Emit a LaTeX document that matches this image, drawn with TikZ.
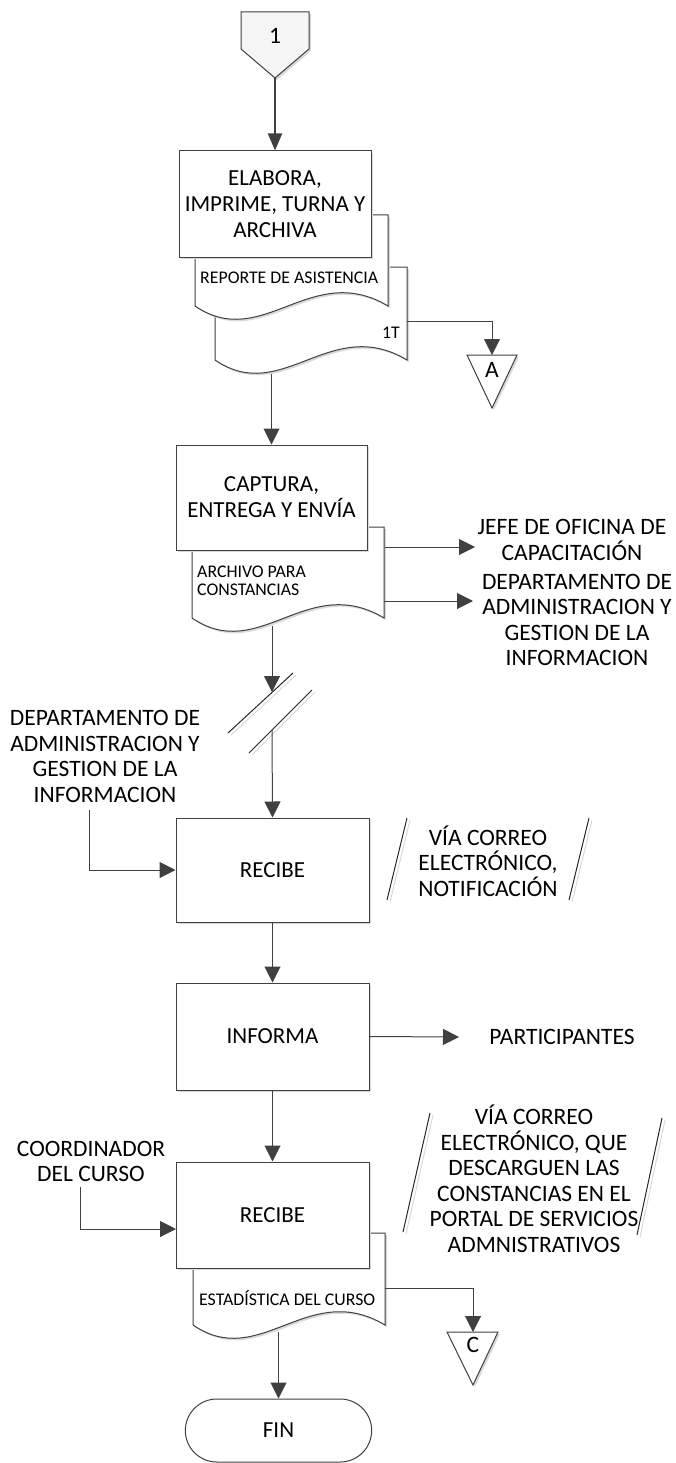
\documentclass[tikz,border=0pt]{standalone}
\usepackage{fontspec}
\setmainfont{Carlito}
\usetikzlibrary{arrows.meta,shapes.misc,shadows,calc}
\definecolor{lncol}{HTML}{404040}
\definecolor{shcol}{HTML}{D9D9D9}
\newcommand\docshape[4]{%
  \fill[shcol] ({#1+2},{#2+2}) -- ({#1+2},{#4+2}) .. controls ({#1+2+0.35*(#3-#1)},{#4+2+46}) and ({#1+2+0.6*(#3-#1)},{#4+2-46}) .. ({#3+2},{#4+2}) -- ({#3+2},{#2+2}) -- cycle;
  \draw[docst] (#1,#2) -- (#1,#4) .. controls ({#1+0.35*(#3-#1)},{#4+46}) and ({#1+0.6*(#3-#1)},{#4-46}) .. (#3,#4) -- (#3,#2) -- cycle;}
\begin{document}
\begin{tikzpicture}[x=1pt,y=-1pt,
  ln/.style={draw=lncol, line width=1pt},
  arr/.style={ln, -{Triangle[length=16pt,width=16pt]}},
  thickarr/.style={draw=lncol, line width=2pt, -{Triangle[length=17pt,width=14pt]}},
  docst/.style={draw=lncol, line width=1pt, fill=white},
  box/.style={draw=lncol, line width=1pt, fill=white, align=center, inner sep=2pt,
    font=\fontsize{23}{26}\selectfont,
    drop shadow={shadow xshift=2pt, shadow yshift=-2pt, fill=shcol, opacity=1}},
  lab/.style={font=\fontsize{23.5}{25.5}\selectfont, align=center, inner sep=0pt},
  small/.style={font=\fontsize{17.8}{18}\selectfont, align=left, inner sep=0pt},
  slash/.style={draw=black!85, line width=1pt},
  slashsh/.style={draw=shcol, line width=1pt},
  term/.style={draw=lncol, line width=1pt, fill=white, rounded rectangle, minimum width=193pt, minimum height=63pt, font=\fontsize{23}{26}\selectfont}
]
\useasboundingbox (0,0) rectangle (675,1463);

% off-page connector 1
\fill[shcol] (243,14) -- (311,14) -- (311,51) -- (277,80) -- (243,51) -- cycle;
\draw[ln, fill=black!4] (241,12) -- (309,12) -- (309,49) -- (275,78) -- (241,49) -- cycle;
\node[lab] (one) at (275,36) {1};
\coordinate (p1) at (275,78);

% documents behind box 1
\docshape{215}{267}{407}{360}
\docshape{195}{215}{388}{306}
\node[box, minimum width=192pt, minimum height=106pt] (b1) at (275,204) {ELABORA,\\IMPRIME, TURNA Y\\ARCHIVA};
\node[small, anchor=west] (rep) at (200,278) {REPORTE DE ASISTENCIA};
\node[small, anchor=east] (t1) at (400,333) {1T};
\draw[thickarr] (p1) -- (b1.north);

% connector A
\coordinate (d2r) at (407,321);
\coordinate (tA) at (492,355);
\fill[shcol] (469,357) -- (519,357) -- (494,410) -- cycle;
\draw[ln, fill=white] (467,355) -- (517,355) -- (492,408) -- cycle;
\node[lab] (A) at (492,370) {A};
\draw[arr] (d2r) -| (tA);

% box 2 with document
\docshape{192}{527}{384}{618}
\node[box, minimum width=191pt, minimum height=105pt] (b2) at (271.5,497.5) {CAPTURA,\\ENTREGA Y ENVÍA};
\node[small, anchor=west] (arch) at (197,581) {ARCHIVO PARA\\CONSTANCIAS};
\coordinate (d2b) at (271.5,374);
\draw[arr] (d2b) -- (b2.north);

\node[lab] (jefe) at (572,540) {JEFE DE OFICINA DE\\CAPACITACIÓN};
\node[lab] (dept) at (577,620) {DEPARTAMENTO DE\\ADMINISTRACION Y\\GESTION DE LA\\INFORMACION};
\coordinate (d3a) at (385,547);
\coordinate (e3a) at (475,547);
\coordinate (d3b) at (384,601);
\coordinate (e3b) at (473,601);
\draw[arr] (d3a) -- (e3a);
\draw[arr] (d3b) -- (e3b);

% break marks
\coordinate (d3c) at (272,626);
\coordinate (s1p) at (272,692);
\coordinate (s2p) at (272,730);
\draw[slashsh] (231,735) -- (296,675);
\draw[slashsh] (252,755) -- (315,692);
\draw[slash] (228,733) -- (293,673);
\draw[slash] (249,753) -- (312,690);
\draw[arr] (d3c) -- (s1p);

% box 3
\node[box, minimum width=193pt, minimum height=104pt] (b3) at (272.5,870) {RECIBE};
\draw[arr] (s2p) -- (b3.north);
\node[lab] (dleft) at (105,756.5) {DEPARTAMENTO DE\\ADMINISTRACION Y\\GESTION DE LA\\INFORMACION};
\coordinate (dl) at (89,810);
\draw[arr] (dl) |- (b3.west);

% parallelogram marks 1
\draw[slashsh] (390,902) -- (410,820);
\draw[slashsh] (572,902) -- (592,820);
\draw[slash] (387,900) -- (407,818);
\draw[slash] (569,900) -- (589,818);
\node[lab] (via1) at (488,861) {VÍA CORREO\\ELECTRÓNICO,\\NOTIFICACIÓN};

% box 4
\node[box, minimum width=193pt, minimum height=107pt] (b4) at (272.5,1036.5) {INFORMA};
\draw[arr] (b3.south) -- (b4.north);
\node[lab] (part) at (562,1037) {PARTICIPANTES};
\coordinate (e4) at (459,1037);
\draw[arr] (b4.east) -- (e4);

% box 5 with document
\docshape{193}{1233}{385}{1325}
\node[box, minimum width=193pt, minimum height=106pt] (b5) at (272.5,1215) {RECIBE};
\node[small, anchor=west] (est) at (199,1298) {ESTADÍSTICA DEL CURSO};
\draw[arr] (b4.south) -- (b5.north);
\node[lab] (coord) at (91,1161.5) {COORDINADOR\\DEL CURSO};
\coordinate (cl) at (80,1187);
\coordinate (cr) at (176,1229);
\draw[arr] (cl) |- (cr);

% parallelogram marks 2
\draw[slashsh] (433,1115) -- (406,1234);
\draw[slashsh] (665,1120) -- (640,1237);
\draw[slash] (430,1113) -- (403,1232);
\draw[slash] (662,1118) -- (637,1235);
\node[lab] (via2) at (534,1179) {VÍA CORREO\\ELECTRÓNICO, QUE\\DESCARGUEN LAS\\CONSTANCIAS EN EL\\PORTAL DE SERVICIOS\\ADMNISTRATIVOS};

% connector C
\coordinate (d4r) at (385,1288);
\coordinate (tC) at (473,1332);
\fill[shcol] (449,1334) -- (500,1334) -- (475,1387) -- cycle;
\draw[ln, fill=white] (447,1332) -- (498,1332) -- (473,1385) -- cycle;
\node[lab] (C) at (473,1345) {C};
\draw[arr] (d4r) -| (tC);

% FIN
\node[term] (fin) at (278.5,1430.5) {FIN};
\coordinate (d4b) at (278.5,1332);
\draw[arr] (d4b) -- (fin.north);
\end{tikzpicture}
\end{document}
